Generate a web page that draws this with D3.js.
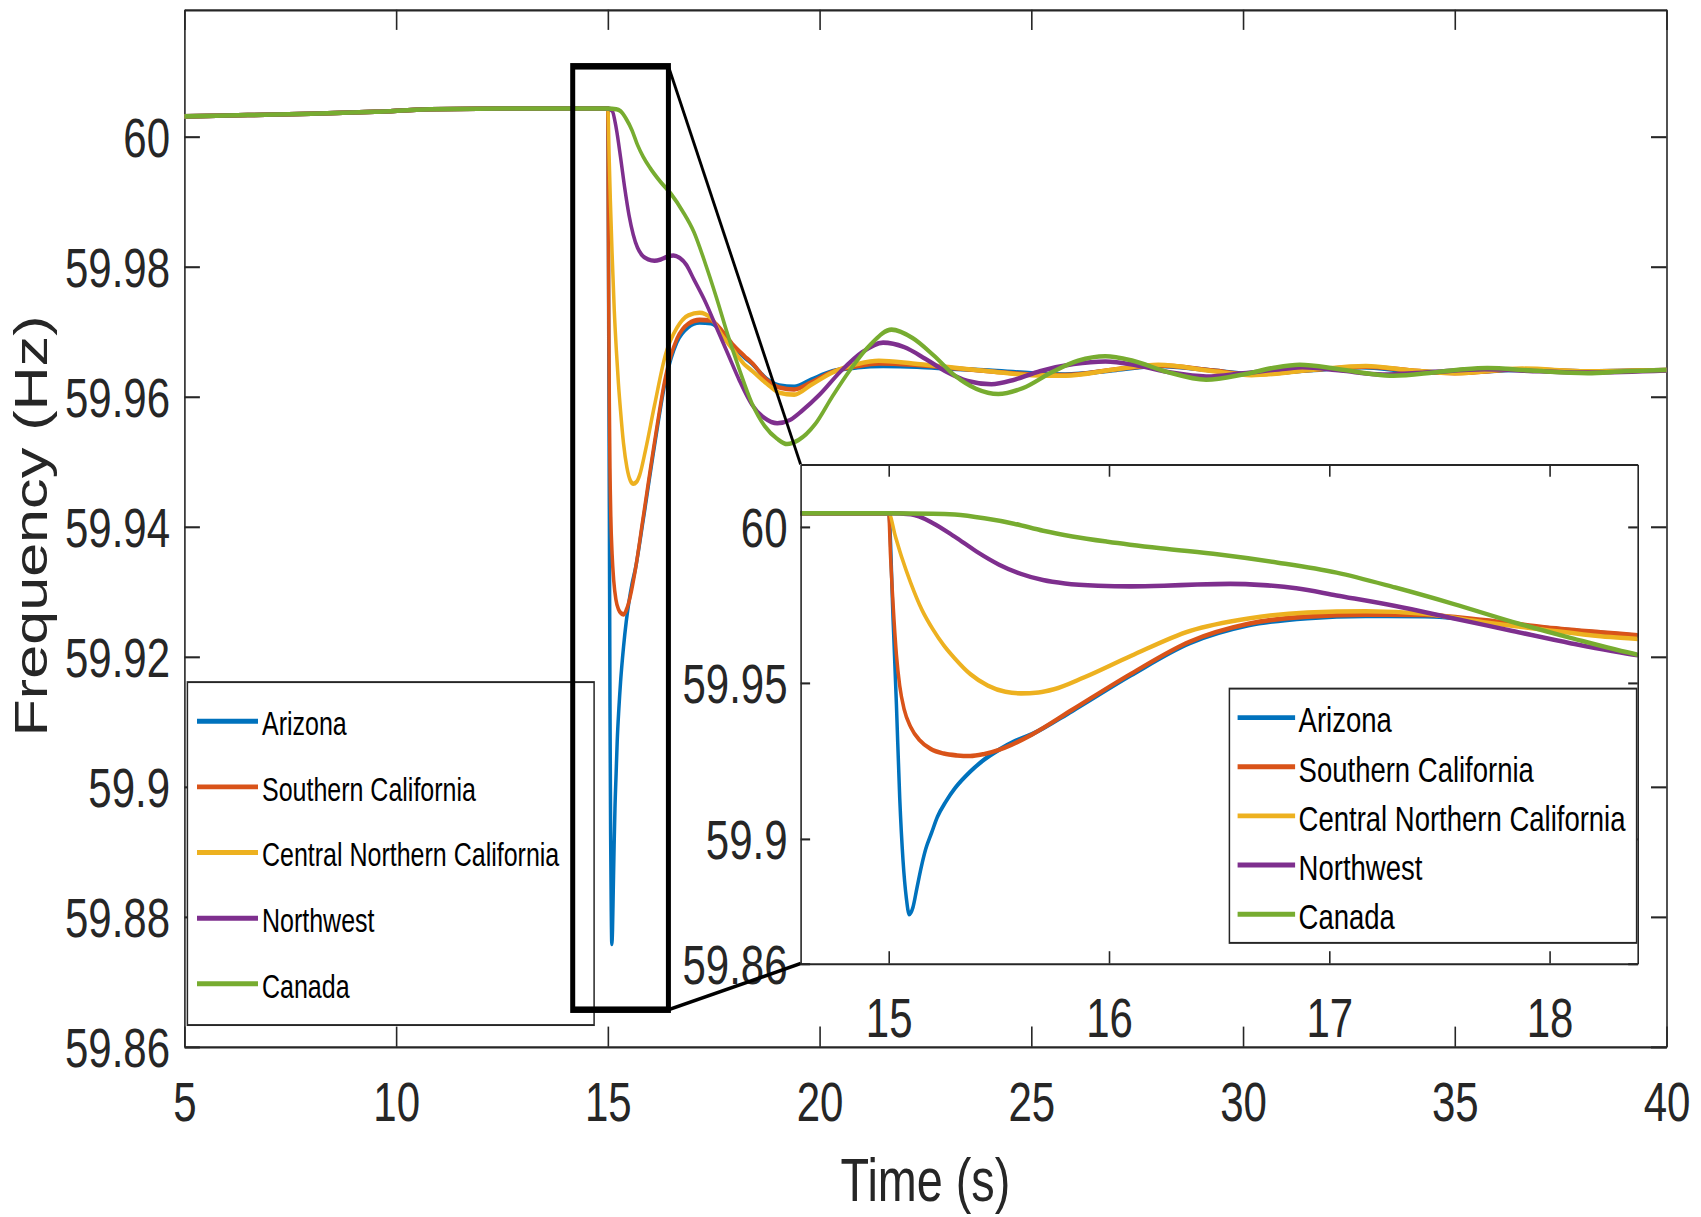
<!DOCTYPE html>
<html>
<head>
<meta charset="utf-8">
<script src="https://cdn.jsdelivr.net/npm/d3@7"></script>
<style>
  html, body { margin: 0; padding: 0; background: #fff; }
  svg { display: block; }
</style>
</head>
<body>
<svg id="chart" width="1701" height="1217"></svg>
<script>
// ---- Data: regional frequency response after a generation trip at t = 15 s ----
const regions = ["Arizona", "Southern California", "Central Northern California", "Northwest", "Canada"];
const colors  = ["#0072BD", "#D95319", "#EDB120", "#7E2F8E", "#77AC30"];

// common pre-disturbance operating point [time (s), frequency (Hz)]
const steadyState = [[5, 60.0031], [6.5, 60.0033], [8, 60.0035], [9.5, 60.0038], [10.8, 60.0042], [12.5, 60.0043], [15, 60.0043]];

const arizona = steadyState.concat([
  [15.02, 59.970], [15.035, 59.943], [15.05, 59.913], [15.065, 59.893], [15.08, 59.881], [15.093, 59.8758],
  [15.11, 59.878], [15.128, 59.8842], [15.148, 59.891], [15.168, 59.8967], [15.195, 59.902], [15.221, 59.907],
  [15.26, 59.912], [15.301, 59.9162], [15.37, 59.9215], [15.434, 59.9254], [15.5, 59.9285], [15.568, 59.9311],
  [15.65, 59.9335], [15.834, 59.9410], [16.1, 59.9524], [16.367, 59.9627], [16.633, 59.9684], [16.9, 59.9707],
  [17.166, 59.9714], [17.433, 59.9713], [17.7, 59.9699], [17.966, 59.9677], [18.232, 59.9660], [18.4, 59.9651],
  [18.75, 59.9627], [19.05, 59.9617], [19.4, 59.9615], [19.8, 59.9626], [20.3, 59.9639], [20.9, 59.9645],
  [21.5, 59.9647], [22.3, 59.9646], [23.1, 59.9643], [24.0, 59.9640], [25.0, 59.9636], [25.8, 59.9634],
  [27.0, 59.9641], [28.0, 59.9647], [29.3, 59.9640], [30.2, 59.9635], [31.5, 59.9640], [32.8, 59.9645],
  [34.0, 59.9639], [35.0, 59.9637], [36.5, 59.9641], [38.0, 59.9639], [40, 59.9641]
]);

const southernCalifornia = steadyState.concat([
  [15.008, 59.991], [15.02, 59.975], [15.035, 59.959], [15.05, 59.949], [15.07, 59.9415], [15.1, 59.9358],
  [15.14, 59.9316], [15.19, 59.9288], [15.25, 59.9273], [15.31, 59.9267], [15.37, 59.9265], [15.43, 59.9271],
  [15.5, 59.9285], [15.56, 59.9302], [15.65, 59.9334], [15.834, 59.9414], [16.1, 59.9529], [16.367, 59.9632],
  [16.633, 59.9689], [16.9, 59.9712], [17.166, 59.9718], [17.433, 59.9717], [17.7, 59.9701], [17.966, 59.9679],
  [18.232, 59.9662], [18.4, 59.9652], [18.75, 59.9626], [19.05, 59.9614], [19.4, 59.9611], [19.8, 59.9622],
  [20.3, 59.9638], [20.9, 59.9647], [21.4, 59.9651], [22.2, 59.9649], [23.1, 59.9644], [24.0, 59.9639],
  [25.0, 59.9634], [25.8, 59.9633], [27.0, 59.9642], [28.0, 59.9648], [29.3, 59.9640], [30.2, 59.9634],
  [31.6, 59.9641], [32.9, 59.9646], [34.0, 59.9640], [35.0, 59.9636], [36.6, 59.9642], [38.1, 59.9639], [40, 59.9641]
]);

const centralNorthernCalifornia = steadyState.concat([
  [15.03, 59.997], [15.06, 59.990], [15.1, 59.982], [15.15, 59.9735], [15.2, 59.9672], [15.25, 59.962],
  [15.3, 59.9578], [15.37, 59.9528], [15.45, 59.9491], [15.53, 59.9471], [15.6, 59.9466], [15.68, 59.9469],
  [15.75, 59.9479], [15.887, 59.9517], [16.1, 59.9586], [16.367, 59.9666], [16.633, 59.9706], [16.9, 59.9725],
  [17.166, 59.9729], [17.433, 59.9721], [17.7, 59.9694], [17.966, 59.9671], [18.232, 59.9649], [18.4, 59.9640],
  [18.75, 59.9620], [19.05, 59.9606], [19.4, 59.9603], [19.8, 59.9618], [20.3, 59.9637], [20.9, 59.9650],
  [21.4, 59.9655], [22.2, 59.9651], [23.1, 59.9645], [24.0, 59.9639], [25.0, 59.9633], [25.8, 59.9632],
  [27.0, 59.9642], [28.0, 59.9649], [29.3, 59.9639], [30.2, 59.9633], [31.6, 59.9641], [32.9, 59.9647],
  [34.0, 59.9640], [35.0, 59.9636], [36.6, 59.9643], [38.1, 59.9639], [40, 59.9641]
]);

const northwest = steadyState.concat([
  [15.1, 60.0040], [15.2, 60.0012], [15.3, 59.9968], [15.4, 59.9920], [15.5, 59.9879], [15.6, 59.9849],
  [15.7, 59.9829], [15.8, 59.9818], [15.95, 59.9811], [16.1, 59.9809], [16.25, 59.9811], [16.4, 59.9815],
  [16.55, 59.9817], [16.7, 59.9813], [16.85, 59.9803], [17.033, 59.9780], [17.3, 59.9746], [17.566, 59.9706],
  [17.832, 59.9666], [18.099, 59.9626], [18.4, 59.9588], [18.7, 59.9567], [19.0, 59.9559], [19.3, 59.9564],
  [19.6, 59.9579], [20.0, 59.9603], [20.5, 59.9639], [21.0, 59.9668], [21.5, 59.9683], [22.0, 59.9676],
  [22.5, 59.9658], [23.0, 59.9638], [23.5, 59.9624], [24.06, 59.9619], [24.6, 59.9626], [25.2, 59.9639],
  [26.0, 59.9650], [26.75, 59.9654], [27.5, 59.9648], [28.3, 59.9637], [29.13, 59.9631], [30.0, 59.9636],
  [31.0, 59.9643], [31.4, 59.9645], [32.3, 59.9640], [33.3, 59.9634], [34.3, 59.9637], [35.7, 59.9642],
  [37.0, 59.9639], [38.2, 59.9637], [40, 59.9640]
]);

const canada = steadyState.concat([
  [15.2, 60.0042], [15.3, 60.0039], [15.434, 60.0027], [15.568, 60.0010], [15.701, 59.9987], [15.834, 59.9969],
  [15.994, 59.9952], [16.234, 59.9931], [16.5, 59.9911], [16.767, 59.9885], [17.033, 59.9853], [17.3, 59.9805],
  [17.566, 59.9752], [17.832, 59.9695], [18.099, 59.9643], [18.4, 59.9590], [18.7, 59.9555], [19.0, 59.9535],
  [19.23, 59.9527], [19.5, 59.9533], [19.9, 59.9558], [20.3, 59.9600], [20.72, 59.9641], [21.2, 59.9680],
  [21.7, 59.9703], [22.2, 59.9690], [22.7, 59.9663], [23.2, 59.9632], [23.7, 59.9612], [24.22, 59.9604],
  [24.8, 59.9613], [25.5, 59.9638], [26.1, 59.9655], [26.75, 59.9662], [27.4, 59.9655], [28.2, 59.9638],
  [29.13, 59.9626], [30.0, 59.9634], [30.7, 59.9644], [31.34, 59.9649], [32.2, 59.9643], [33.0, 59.9635],
  [33.55, 59.9632], [34.5, 59.9637], [35.2, 59.9642], [35.77, 59.9644], [36.8, 59.9640], [38.14, 59.9636],
  [39.0, 59.9639], [40, 59.9641]
]);

const series = [arizona, southernCalifornia, centralNorthernCalifornia, northwest, canada];

// axis ticks and limits
const mainXTicks  = [5, 10, 15, 20, 25, 30, 35, 40];
const mainYTicks  = [59.86, 59.88, 59.9, 59.92, 59.94, 59.96, 59.98, 60];
const insetXTicks = [15, 16, 17, 18];
const insetYTicks = [59.86, 59.9, 59.95, 60];
const mainXDomain  = [5, 40];
const mainYDomain  = [59.86, 60.0195];
const insetXDomain = [14.6, 18.4];
const insetYDomain = [59.86, 60.02];
// highlighted window around the disturbance (data units)
const zoomBoxT = [14.17, 16.43];
const zoomBoxF = [59.8657, 60.0108];

// ---- Drawing ----
const S = 1.3;               // the whole figure is rendered with a vertical stretch
const font = '"Liberation Sans", Arial, Helvetica, sans-serif';
const axisColor = "#262626";

const svg = d3.select("#chart");
const root = svg.append("g").attr("transform", `scale(1,${S})`);
const defs = root.append("defs");

const main  = { left: 184.4, right: 1666.5, top: 7.5,   bottom: 805.2 };
const inset = { left: 800.6, right: 1637.7, top: 357.2, bottom: 741.2 };

const xMain = d3.scaleLinear().domain(mainXDomain).range([main.left, main.right]);
const yMain = d3.scaleLinear().domain(mainYDomain).range([main.bottom, main.top]);
const xIn   = d3.scaleLinear().domain(insetXDomain).range([inset.left, inset.right]);
const yIn   = d3.scaleLinear().domain(insetYDomain).range([inset.bottom, inset.top]);

function clip(id, b) {
  defs.append("clipPath").attr("id", id)
    .append("rect").attr("x", b.left).attr("y", b.top)
    .attr("width", b.right - b.left).attr("height", b.bottom - b.top);
}
clip("clip-main", main);
clip("clip-inset", inset);

function styleAxis(a, size) {
  a.attr("font-family", font).attr("font-size", size).attr("color", axisColor);
  a.selectAll("path.domain").attr("stroke-width", 1.6);
  a.selectAll(".tick line").attr("stroke-width", 1.6);
  return a;
}

function drawFrame(g, b, xs, ys, xt, yt, tickLen, xPad, yPad) {
  const fmt = d => String(d);
  styleAxis(g.append("g").attr("transform", `translate(0,${b.bottom})`)
    .call(d3.axisBottom(xs).tickValues(xt).tickSizeInner(-tickLen).tickSizeOuter(0).tickPadding(xPad).tickFormat(fmt)), 42);
  styleAxis(g.append("g").attr("transform", `translate(0,${b.top})`)
    .call(d3.axisTop(xs).tickValues(xt).tickSizeInner(-tickLen).tickSizeOuter(0).tickFormat("")), 42);
  const left = styleAxis(g.append("g").attr("transform", `translate(${b.left},0)`)
    .call(d3.axisLeft(ys).tickValues(yt).tickSizeInner(-tickLen).tickSizeOuter(0).tickPadding(yPad).tickFormat(fmt)), 42);
  left.selectAll("text").attr("dy", "0.36em");
  styleAxis(g.append("g").attr("transform", `translate(${b.right},0)`)
    .call(d3.axisRight(ys).tickValues(yt).tickSizeInner(-tickLen).tickSizeOuter(0).tickFormat("")), 42);
}

function drawCurves(g, xs, ys, clipId) {
  const line = d3.line().x(d => xs(d[0])).y(d => ys(d[1])).curve(d3.curveMonotoneX);
  g.append("g").attr("clip-path", `url(#${clipId})`)
    .selectAll("path").data(series).join("path")
    .attr("d", line)
    .attr("fill", "none")
    .attr("stroke", (d, i) => colors[i])
    .attr("stroke-width", 3.5)
    .attr("stroke-linejoin", "round")
    .attr("stroke-linecap", "round");
}

function drawLegend(g, box, firstRow, rowH, lineX0, lineX1, textX, size) {
  g.append("rect")
    .attr("x", box.left).attr("y", box.top)
    .attr("width", box.right - box.left).attr("height", box.bottom - box.top)
    .attr("fill", "#fff").attr("stroke", axisColor).attr("stroke-width", 1.5);
  const rows = g.selectAll("g.entry").data(regions).join("g")
    .attr("class", "entry")
    .attr("transform", (d, i) => `translate(0,${firstRow + i * rowH})`);
  rows.append("line")
    .attr("x1", lineX0).attr("x2", lineX1).attr("y1", -1.5).attr("y2", -1.5)
    .attr("stroke", (d, i) => colors[i]).attr("stroke-width", 3.8);
  rows.append("text")
    .attr("x", textX).attr("y", 0).attr("dy", "0.36em")
    .attr("font-family", font).attr("font-size", size).attr("fill", "#000")
    .text(d => d);
}

// main axes
const mainG = root.append("g");
drawFrame(mainG, main, xMain, yMain, mainXTicks, mainYTicks, 15.5, 27.3, 14.4);
drawCurves(mainG, xMain, yMain, "clip-main");
drawLegend(mainG, { left: 187.4, right: 594.1, top: 524.7, bottom: 788.5 },
  556.3, 50.5, 197, 258, 262, 25);

// highlighted window
root.append("rect")
  .attr("x", xMain(zoomBoxT[0])).attr("y", yMain(zoomBoxF[1]))
  .attr("width", xMain(zoomBoxT[1]) - xMain(zoomBoxT[0]))
  .attr("height", yMain(zoomBoxF[0]) - yMain(zoomBoxF[1]))
  .attr("fill", "none").attr("stroke", "#000").attr("stroke-width", 5);

// inset (magnified view of the first seconds after the event)
const insetG = root.append("g");
insetG.append("rect")
  .attr("x", inset.left).attr("y", inset.top)
  .attr("width", inset.right - inset.left).attr("height", inset.bottom - inset.top)
  .attr("fill", "#fff");
drawCurves(insetG, xIn, yIn, "clip-inset");
drawFrame(insetG, inset, xIn, yIn, insetXTicks, insetYTicks, 9.5, 26.7, 13.1);
drawLegend(insetG, { left: 1229.4, right: 1636.6, top: 529.7, bottom: 725.3 },
  553.5, 37.8, 1237.6, 1295.1, 1298.6, 27.5);

// connectors from the window to the inset corners
root.append("line")
  .attr("x1", xMain(zoomBoxT[1])).attr("y1", yMain(zoomBoxF[1]))
  .attr("x2", inset.left).attr("y2", inset.top)
  .attr("stroke", "#000").attr("stroke-width", 2.8);
root.append("line")
  .attr("x1", xMain(zoomBoxT[1])).attr("y1", yMain(zoomBoxF[0]))
  .attr("x2", inset.left).attr("y2", inset.bottom)
  .attr("stroke", "#000").attr("stroke-width", 2.8);

// axis titles
root.append("text")
  .attr("transform", "translate(47.3,404.6) rotate(-90)")
  .attr("text-anchor", "middle")
  .attr("font-family", font).attr("font-size", 47).attr("fill", axisColor)
  .text("Frequency (Hz)");
root.append("text")
  .attr("x", (main.left + main.right) / 2).attr("y", 923.8)
  .attr("text-anchor", "middle")
  .attr("font-family", font).attr("font-size", 46.8).attr("fill", axisColor)
  .text("Time (s)");
</script>
</body>
</html>
